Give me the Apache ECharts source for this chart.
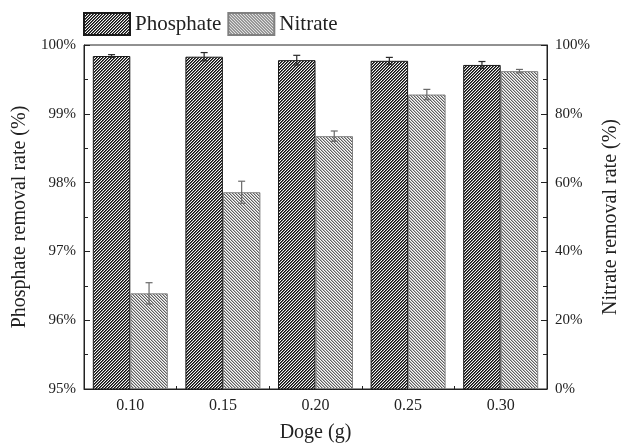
<!DOCTYPE html>
<html lang="en">
<head>
	<meta charset="UTF-8">
	<script src="https://cdn.jsdelivr.net/npm/echarts@6/dist/echarts.min.js"></script>
	<title>Removal rate vs dose</title>
	<style>body{margin:0;background:#fff;}</style>
</head>
<body>
<div id="chart" style="width:621px;height:446px;"></div>
<script type="text/javascript">
	// data
	var doses = ['0.10', '0.15', '0.20', '0.25', '0.30'];
	var phosphate = [99.84, 99.83, 99.78, 99.77, 99.71];   // left axis, %
	var phosphateErr = [0.02, 0.06, 0.07, 0.05, 0.05];
	var nitrate = [27.8, 57.2, 73.5, 85.6, 92.4];          // right axis, %
	var nitrateErr = [3.1, 3.2, 1.5, 1.5, 0.5];
	var leftTicks = [95, 100, 1];
	var rightTicks = [0, 100, 20];

	var font = '"Liberation Serif", "Times New Roman", serif';
	var catGap = 0.19;

	// hatch tile: dir 1 = "/", dir -1 = "\" ; shades[k] per diagonal
	function hatch(dir, shades) {
		var size = shades.length;
		var c = document.createElement('canvas');
		c.width = size; c.height = size;
		var ctx = c.getContext('2d');
		var img = ctx.createImageData(size, size);
		for (var y = 0; y < size; y++) {
			for (var x = 0; x < size; x++) {
				var k = dir > 0 ? (x + y) % size : ((x - y) % size + size) % size;
				var g = shades[k];
				var i = (y * size + x) * 4;
				img.data[i] = g; img.data[i + 1] = g; img.data[i + 2] = g; img.data[i + 3] = 255;
			}
		}
		ctx.putImageData(img, 0, 0);
		return {image: c, repeat: 'repeat'};
	}

	function errBar(sign, color) {
		return function (params, api) {
			var i = api.value(0), v = api.value(1), e = api.value(2);
			var hi = api.coord([i, v + e]);
			var lo = api.coord([i, v - e]);
			var band = api.size([1, 0])[0];
			var bw = band * (1 - catGap) / 2;
			var x = hi[0] + sign * bw / 2;
			var cap = 3.5;
			var st = {stroke: color, lineWidth: 1.2};
			return {
				type: 'group',
				children: [
					{type: 'line', shape: {x1: x, y1: hi[1], x2: x, y2: lo[1]}, style: st},
					{type: 'line', shape: {x1: x - cap, y1: hi[1], x2: x + cap, y2: hi[1]}, style: st},
					{type: 'line', shape: {x1: x - cap, y1: lo[1], x2: x + cap, y2: lo[1]}, style: st}
				]
			};
		};
	}

	var chart = echarts.init(document.getElementById('chart'));
	var axisText = {color: '#222', fontFamily: font, fontSize: 15};
	var nameText = {color: '#222', fontFamily: font, fontSize: 20};

	var option = {
		animation: false,
		backgroundColor: '#fff',
		grid: {
			left: 84, right: 74, top: 45, bottom: 57,
			outerBoundsMode: 'none', containLabel: false,
			show: true, borderColor: '#222', borderWidth: 1
		},
		legend: {
			left: 78, top: 7,
			itemWidth: 46, itemHeight: 22, itemGap: 6,
			icon: 'rect',
			textStyle: {color: '#222', fontFamily: font, fontSize: 21},
			data: ['Phosphate', 'Nitrate']
		},
		xAxis: {
			type: 'category',
			data: doses,
			name: 'Doge (g)',
			nameLocation: 'middle',
			nameGap: 34,
			nameTextStyle: nameText,
			axisLine: {lineStyle: {color: '#222', width: 1}},
			axisTick: {show: true, inside: true, length: 3, lineStyle: {color: '#222'}},
			axisLabel: Object.assign({}, axisText, {margin: 9, fontSize: 16})
		},
		yAxis: [
			{
				type: 'value',
				min: leftTicks[0], max: leftTicks[1], interval: leftTicks[2],
				name: 'Phosphate removal rate (%)',
				nameLocation: 'middle',
				nameGap: 52,
				nameTextStyle: nameText,
				axisLine: {show: true, lineStyle: {color: '#222'}},
				axisTick: {show: true, inside: true, length: 6, lineStyle: {color: '#222'}},
				minorTick: {show: true, splitNumber: 2, length: 4, lineStyle: {color: '#222'}},
				splitLine: {show: false},
				axisLabel: Object.assign({margin: 8, formatter: '{value}%'}, axisText)
			},
			{
				type: 'value',
				min: rightTicks[0], max: rightTicks[1], interval: rightTicks[2],
				name: 'Nitrate removal rate (%)',
				nameLocation: 'middle',
				nameGap: 48,
				nameTextStyle: nameText,
				axisLine: {show: true, lineStyle: {color: '#222'}},
				axisTick: {show: true, inside: true, length: 6, lineStyle: {color: '#222'}},
				minorTick: {show: true, splitNumber: 2, length: 4, lineStyle: {color: '#222'}},
				splitLine: {show: false},
				axisLabel: Object.assign({margin: 8, formatter: '{value}%'}, axisText)
			}
		],
		series: [
			{
				name: 'Phosphate',
				type: 'bar',
				yAxisIndex: 0,
				barGap: '0%',
				barCategoryGap: (catGap * 100) + '%',
				data: phosphate,
				itemStyle: {color: hatch(1, [15, 90, 245]), borderColor: '#1a1a1a', borderWidth: 1}
			},
			{
				name: 'Nitrate',
				type: 'bar',
				yAxisIndex: 1,
				barGap: '0%',
				barCategoryGap: (catGap * 100) + '%',
				data: nitrate,
				itemStyle: {color: hatch(-1, [95, 185, 250]), borderColor: '#808080', borderWidth: 1}
			},
			{
				type: 'custom',
				yAxisIndex: 0,
				z: 5,
				renderItem: errBar(-1, '#2a2a2a'),
				data: phosphate.map(function (v, i) { return [i, v, phosphateErr[i]]; })
			},
			{
				type: 'custom',
				yAxisIndex: 1,
				z: 5,
				renderItem: errBar(1, '#6a6a6a'),
				data: nitrate.map(function (v, i) { return [i, v, nitrateErr[i]]; })
			}
		]
	};
	chart.setOption(option);
</script>
</body>
</html>
